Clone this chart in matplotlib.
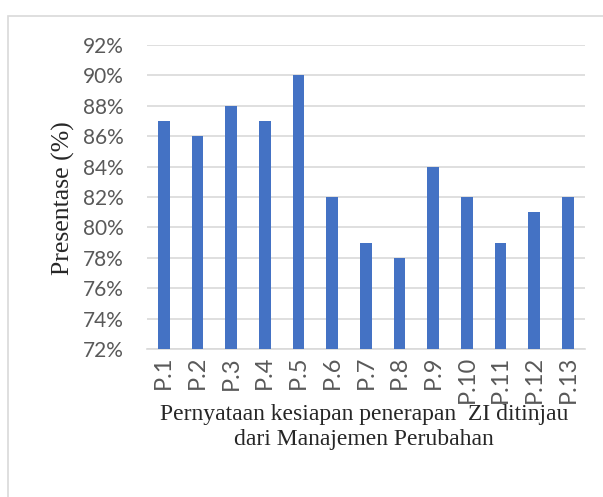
import matplotlib as mpl
mpl.use('Agg')
import matplotlib.pyplot as plt
from matplotlib.patches import Rectangle
import matplotlib.ticker as mticker

labels = ["P.1", "P.2", "P.3", "P.4", "P.5", "P.6", "P.7",
          "P.8", "P.9", "P.10", "P.11", "P.12", "P.13"]
values = [87, 86, 88, 87, 90, 82, 79, 78, 84, 82, 79, 81, 82]

fig = plt.figure(figsize=(6.03, 4.97), dpi=100)
ax = fig.add_axes([0.2438, 0.2978, 0.726, 0.6117])

# outer chart frame (only left and top visible)
fig.patches.append(Rectangle((8/603, -0.1), 1.2, 1 - 16/497 + 0.1, transform=fig.transFigure,
                             fill=False, edgecolor="#d9d9d9", linewidth=1.2))

x = range(len(labels))
ax.bar(x, values, width=0.35, color="#4472C4", zorder=3)

ax.set_ylim(72, 92)
ax.set_xlim(-0.5, len(labels) - 0.5)
ax.yaxis.set_major_locator(mticker.MultipleLocator(2))
ax.yaxis.set_major_formatter(mticker.FuncFormatter(lambda v, p: "%d%%" % v))
ax.grid(axis="y", color="#d9d9d9", linewidth=1.2, zorder=0)
for s in ["top", "right", "left"]:
    ax.spines[s].set_visible(False)
ax.spines["bottom"].set_color("#d9d9d9")
ax.spines["bottom"].set_linewidth(1.2)

ax.set_xticks(list(x))
ax.set_xticklabels(labels, rotation=90, fontsize=17, color="#595959", family="Lato")
for t in ax.get_yticklabels():
    t.set_family("Lato")
ax.tick_params(axis="y", labelsize=15, labelcolor="#595959", length=0, pad=17)
ax.tick_params(axis="x", length=0, pad=5)

fig.text(63/603, 1 - 198/497, "Presentase (%)", rotation=90, ha="center", va="center",
         fontsize=18.5, family="Liberation Serif", color="#262626")
fig.text(364/603, 1 - 427/497, "Pernyataan kesiapan penerapan  ZI ditinjau\ndari Manajemen Perubahan",
         ha="center", va="center", fontsize=17, family="Liberation Serif", color="#262626",
         linespacing=1.3)

plt.savefig("out.png", dpi=100)
